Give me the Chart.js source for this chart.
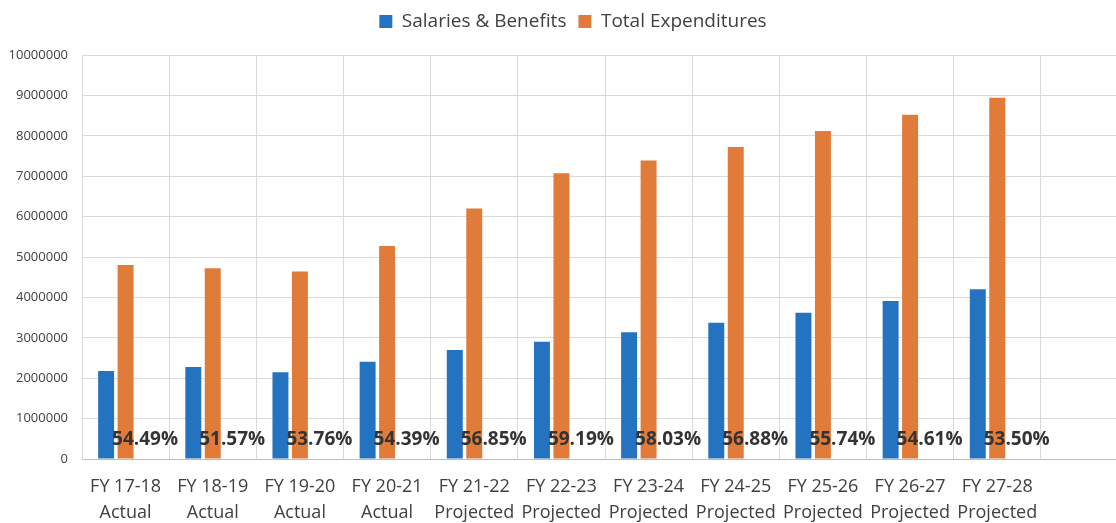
<!DOCTYPE html>
<html>
<head>
<meta charset="utf-8">
<script src="https://cdn.jsdelivr.net/npm/chart.js@4/dist/chart.umd.min.js"></script>
<style>
  html, body { margin: 0; padding: 0; background: #fff; overflow: hidden; }
  #wrap { width: 1116px; height: 523px; overflow: hidden; }
</style>
</head>
<body>
<div id="wrap"><canvas id="myChart" width="1128" height="523"></canvas></div>
<script>
const categories = [
    ['FY 17-18', 'Actual'], ['FY 18-19', 'Actual'], ['FY 19-20', 'Actual'], ['FY 20-21', 'Actual'],
    ['FY 21-22', 'Projected'], ['FY 22-23', 'Projected'], ['FY 23-24', 'Projected'], ['FY 24-25', 'Projected'],
    ['FY 25-26', 'Projected'], ['FY 26-27', 'Projected'], ['FY 27-28', 'Projected'], ''
];
const salaries = [2180000, 2280000, 2150000, 2410000, 2700000, 2900000, 3140000, 3370000, 3620000, 3910000, 4200000, null];
const totals = [4800000, 4720000, 4640000, 5270000, 6200000, 7070000, 7390000, 7720000, 8120000, 8520000, 8940000, null];
const percents = ['54.49%', '51.57%', '53.76%', '54.39%', '56.85%', '59.19%', '58.03%', '56.88%', '55.74%', '54.61%', '53.50%', null];

const font = "'Open Sans', 'Liberation Sans', sans-serif";

// percent labels sit in the third (empty) bar slot of each category
const pctLabels = {
    id: 'pctLabels',
    afterDatasetsDraw(chart) {
        const ctx = chart.ctx;
        const meta = chart.getDatasetMeta(2);
        const y0 = chart.scales.y.getPixelForValue(0);
        ctx.save();
        ctx.font = "bold 19px " + font;
        ctx.fillStyle = '#333333';
        ctx.textAlign = 'center';
        ctx.textBaseline = 'middle';
        meta.data.forEach((bar, i) => {
            if (percents[i]) ctx.fillText(percents[i], bar.x, y0 - 19);
        });
        ctx.restore();
    }
};

// extra gap under the legend, and nudge it right a little
const legendGap = {
    id: 'legendGap',
    beforeInit(chart) {
        const fit = chart.legend.fit;
        chart.legend.fit = function () {
            fit.call(this);
            this.height += 14;
        };
    },
    afterLayout(chart) {
        chart.legend.left += 9;
        chart.legend.right += 9;
    }
};

const myChart = new Chart('myChart', {
    type: 'bar',
    data: {
        labels: categories,
        datasets: [{
            label: 'Salaries & Benefits',
            backgroundColor: '#2473c0',
            data: salaries
        }, {
            label: 'Total Expenditures',
            backgroundColor: '#e07b39',
            data: totals
        }, {
            label: 'pct',
            backgroundColor: 'rgba(0,0,0,0)',
            data: percents.map(p => p ? 0 : null)
        }]
    },
    options: {
        responsive: false,
        animation: false,
        datasets: { bar: { categoryPercentage: 0.67, barPercentage: 0.82 } },
        layout: { padding: 0 },
        plugins: {
            tooltip: { enabled: false },
            legend: {
                position: 'top',
                labels: {
                    font: { family: font, size: 19 },
                    color: '#404040',
                    boxWidth: 13,
                    boxHeight: 13,
                    padding: 12,
                    filter: item => item.datasetIndex < 2
                }
            }
        },
        scales: {
            x: {
                grid: { color: '#d9d9d9', offset: true, drawTicks: false },
                border: { color: '#bfbfbf' },
                ticks: {
                    font: { family: font, size: 18, lineHeight: 1.45 },
                    color: '#404040',
                    maxRotation: 0,
                    minRotation: 0,
                    autoSkip: false,
                    padding: 15
                },
                afterFit(scale) { scale.height = 64; }
            },
            y: {
                min: 0,
                max: 10000000,
                grid: { color: '#d9d9d9', drawTicks: false },
                border: { display: false },
                ticks: {
                    stepSize: 1000000,
                    font: { family: font, size: 13 },
                    color: '#404040',
                    padding: 14,
                    callback: v => String(v)
                },
                afterFit(scale) { scale.width = 82; }
            }
        }
    },
    plugins: [pctLabels, legendGap]
});
</script>
</body>
</html>
